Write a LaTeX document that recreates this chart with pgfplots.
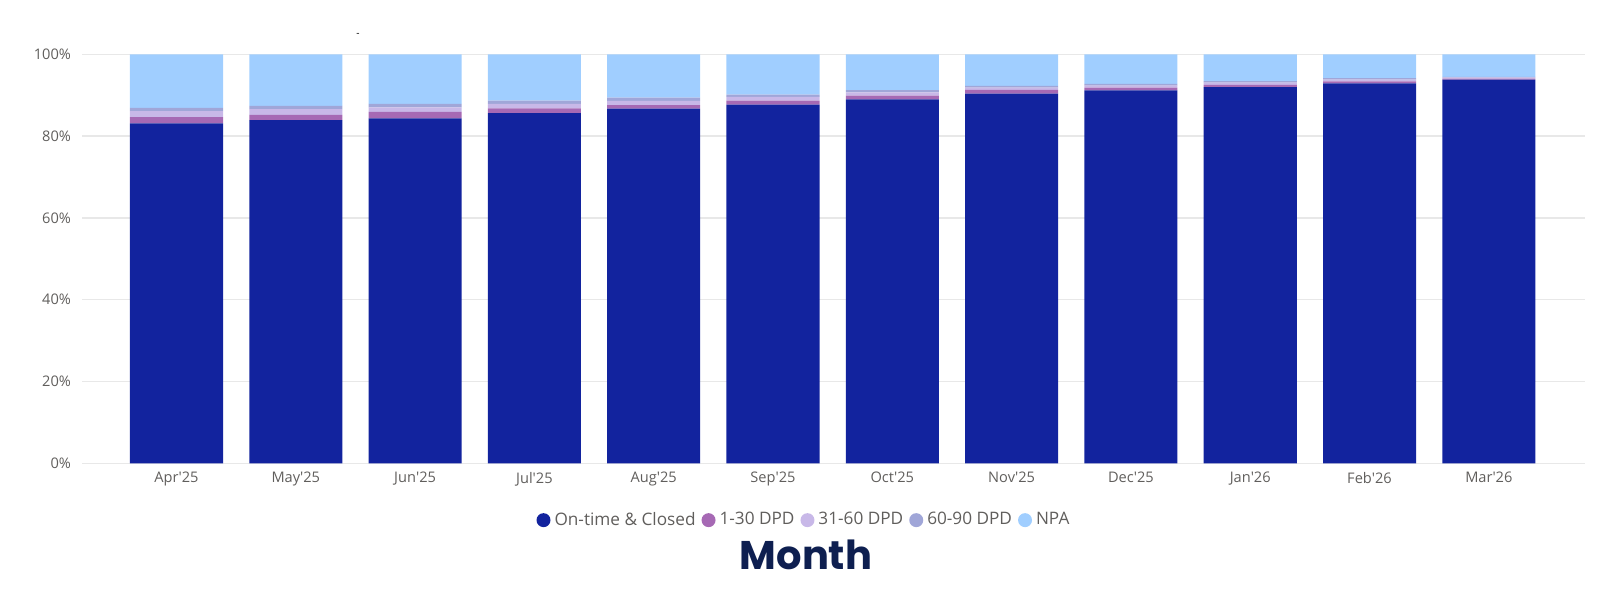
\documentclass[border=0pt]{standalone}
\usepackage{fontspec}
\setmainfont{Open Sans}
\newfontfamily\titlefont{Poppins}
\usepackage{pgfplots}
\usepackage{pgfplotstable}
\pgfplotsset{compat=1.18}
\definecolor{cOn}{HTML}{12239E}
\definecolor{cA}{HTML}{A669B4}
\definecolor{cB}{HTML}{C8B8E8}
\definecolor{cC}{HTML}{A0A6D8}
\definecolor{cN}{HTML}{A0CEFF}
\definecolor{txt}{HTML}{605E5C}
\definecolor{grd}{HTML}{E8E8E8}
\definecolor{ttl}{HTML}{0E1F50}
\newcommand{\q}{\textquotesingle}
\pgfplotstableread{
x on d1 d2 d3 npa
0 83.1 1.55 1.45 0.8 13.1
1 83.9 1.3 1.4 0.8 12.6
2 84.35 1.6 1.1 0.8 12.15
3 85.6 1.2 1.05 0.8 11.35
4 86.7 0.9 1.0 0.8 10.6
5 87.7 1.0 0.9 0.55 9.85
6 89.0 0.9 0.8 0.55 8.75
7 90.4 0.9 0.55 0.4 7.75
8 91.2 0.65 0.5 0.4 7.25
9 92.0 0.55 0.5 0.4 6.55
10 92.9 0.5 0.4 0.35 5.85
11 93.8 0.25 0.25 0.2 5.5
}\datatable
\begin{document}
\begin{tikzpicture}
\path[use as bounding box] (-41pt,-65.85pt) rectangle ++(801.5pt,297.5pt);
\begin{axis}[
  at={(0,0)}, anchor=south west,
  scale only axis, width=751.5pt, height=204.5pt,
  ybar stacked, bar width=0.78,
  xmin=-0.792, xmax=11.806, ymin=0, ymax=100,
  axis line style={draw=none},
  ymajorgrids, grid style={grd, line width=0.75pt},
  major tick length=0pt,
  xtick=data,
  xticklabels={Apr\q25,May\q25,Jun\q25,Jul\q25,Aug\q25,Sep\q25,Oct\q25,Nov\q25,Dec\q25,Jan\q26,Feb\q26,Mar\q26},
  ytick={0,20,40,60,80,100},
  yticklabels={0\%,20\%,40\%,60\%,80\%,100\%},
  tick label style={font=\fontsize{7.3pt}{8pt}\selectfont, text=txt},
  yticklabel style={xshift=-2pt},
  xticklabel style={yshift=-1pt},
  legend columns=-1,
  legend style={at={(0.481,-0.139)}, anchor=center, draw=none, fill=none,
    font=\fontsize{8.6pt}{9.5pt}\selectfont, text=txt,
    /tikz/every even column/.append style={column sep=1pt}},
  legend cell align=left,
]
\addplot[fill=cOn, draw=none, legend image code/.code={\fill[cOn] (0.45em,0pt) circle (3.5pt);}] table[x=x,y=on] {\datatable};
\addlegendentry{On-time \& Closed}
\addplot[fill=cA, draw=none, legend image code/.code={\fill[cA] (0.45em,0pt) circle (3.5pt);}] table[x=x,y=d1] {\datatable};
\addlegendentry{1-30 DPD}
\addplot[fill=cB, draw=none, legend image code/.code={\fill[cB] (0.45em,0pt) circle (3.5pt);}] table[x=x,y=d2] {\datatable};
\addlegendentry{31-60 DPD}
\addplot[fill=cC, draw=none, legend image code/.code={\fill[cC] (0.45em,0pt) circle (3.5pt);}] table[x=x,y=d3] {\datatable};
\addlegendentry{60-90 DPD}
\addplot[fill=cN, draw=none, legend image code/.code={\fill[cN] (0.45em,0pt) circle (3.5pt);}] table[x=x,y=npa] {\datatable};
\addlegendentry{NPA}
\end{axis}
\node[font=\titlefont\bfseries\fontsize{20pt}{22pt}\selectfont, text=ttl] at (362pt,-45.85pt) {Month};
\node[font=\fontsize{5pt}{5pt}\selectfont, inner sep=0pt] at (138pt,214.15pt) {-};
\end{tikzpicture}
\end{document}
